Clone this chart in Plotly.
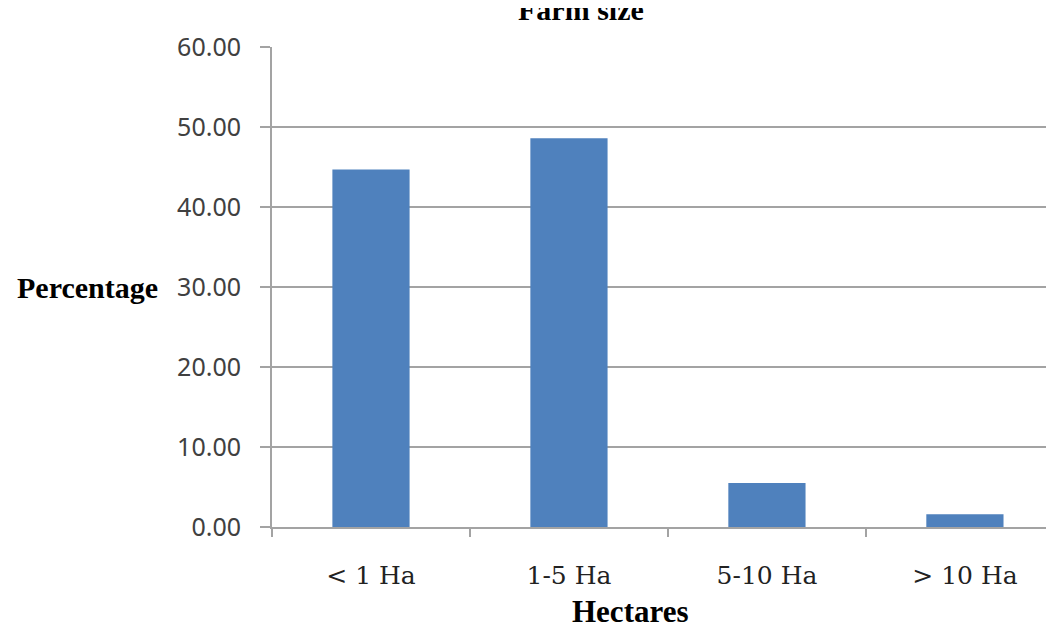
import plotly.graph_objects as go

categories = ["< 1 Ha", "1-5 Ha", "5-10 Ha", "> 10 Ha"]
percentages = [44.7, 48.6, 5.5, 1.6]
y_ticks = [0, 10, 20, 30, 40, 50, 60]
y_tick_labels = ["0.00", "10.00", "20.00", "30.00", "40.00", "50.00", "60.00"]
title_text = "Farm size"
x_title = "Hectares"
y_title = "Percentage"

GRID = "#a3a3a3"

# page body has an 8px margin, so the figure is offset by 8px
fig = go.Figure()
fig.add_trace(go.Bar(
    x=categories, y=percentages,
    marker=dict(color="#4F81BD", line=dict(width=0)),
    width=0.39,
))

fig.update_layout(
    width=1046, height=620,
    margin=dict(l=264, r=0, t=39, b=101, autoexpand=False),
    paper_bgcolor="white", plot_bgcolor="white",
    showlegend=False,
    xaxis=dict(
        range=[-0.5, 3.45],
        showgrid=False, zeroline=False,
        showline=True, linecolor=GRID, linewidth=2,
        ticks="outside", tickson="boundaries", ticklen=8, tickwidth=2, tickcolor=GRID,
        tickfont=dict(family="DejaVu Serif", size=25, color="#222222"),
        ticklabelstandoff=25,
    ),
    yaxis=dict(
        range=[0, 60],
        tickvals=y_ticks, ticktext=y_tick_labels,
        showgrid=True, gridcolor=GRID, gridwidth=2,
        zeroline=False,
        showline=True, linecolor=GRID, linewidth=2,
        ticks="outside", ticklen=10, tickwidth=2, tickcolor=GRID,
        tickfont=dict(family="Noto Sans", size=25, color="#404040"),
        ticklabelstandoff=14,
    ),
    annotations=[
        dict(text=y_title, xref="paper", yref="paper", x=-0.1434, y=0.5,
             xanchor="right", yanchor="middle", showarrow=False,
             font=dict(family="Liberation Serif", size=30, color="black", weight="bold")),
        dict(text=x_title, xref="paper", yref="paper", x=0.458, y=-0.175,
             xanchor="center", yanchor="middle", showarrow=False,
             font=dict(family="Liberation Serif", size=31, color="black", weight="bold")),
        dict(text=title_text, xref="paper", yref="paper", x=0.395, y=1.04,
             xanchor="center", yanchor="bottom", showarrow=False,
             font=dict(family="Liberation Serif", size=30, color="black", weight="bold")),
    ],
)

fig.write_html("out.html")
